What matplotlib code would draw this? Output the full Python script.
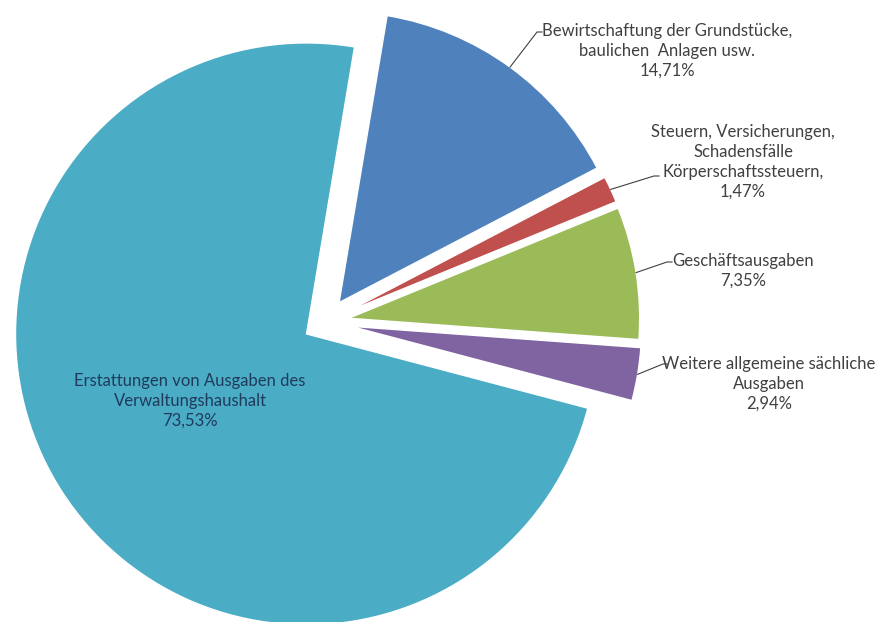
import numpy as np
import matplotlib.pyplot as plt

# slices, clockwise from the top
labels = ['Bewirtschaftung der Grundstücke,\nbaulichen  Anlagen usw.',
          'Steuern, Versicherungen,\nSchadensfälle\nKörperschaftssteuern,',
          'Geschäftsausgaben',
          'Weitere allgemeine sächliche\nAusgaben',
          'Erstattungen von Ausgaben des\nVerwaltungshaushalt']
shares = [14.71, 1.47, 7.35, 2.94, 73.53]
colors = ['#4F81BD', '#C0504D', '#9BBB59', '#8064A2', '#4BACC6']
explode = [24, 24, 24, 26, 22]

W, H = 883, 622
# label centres and leader-line ends in image pixels (y from top)
label_xy = [(667, 51), (743, 162), (743, 271), (769, 384), (190, 401)]
leader_end = [(537, 32), (654, 176), (667, 262), (663, 364), None]

plt.rcParams['font.family'] = ['Lato', 'DejaVu Sans']

fig = plt.figure(figsize=(W / 100, H / 100), dpi=100)
ax = fig.add_axes([0, 0, 1, 1])

R = 291
wedges, _ = ax.pie(shares, colors=colors, startangle=80.5, counterclock=False,
                   explode=explode, radius=R, center=(325, H - 322),
                   wedgeprops=dict(edgecolor='white', linewidth=1))
ax.set_xlim(0, W)
ax.set_ylim(0, H)
ax.set_aspect('equal')
ax.axis('off')

for w, lab, v, (lx, ly), end in zip(wedges, labels, shares, label_xy, leader_end):
    txt = lab + '\n' + f'{v:.2f}'.replace('.', ',') + '%'
    col = '#1F3B5C' if end is None else '#404040'
    ax.text(lx, H - ly, txt, ha='center', va='center', fontsize=12,
            color=col, linespacing=1.3)
    if end is not None:
        tm = np.deg2rad((w.theta1 + w.theta2) / 2)
        sx = w.center[0] + w.r * np.cos(tm)
        sy = w.center[1] + w.r * np.sin(tm)
        ex, ey = end[0], H - end[1]
        ax.plot([sx, ex, ex + 5], [sy, ey, ey], color='#404040', lw=0.8)

fig.savefig('out.png', dpi=100)
